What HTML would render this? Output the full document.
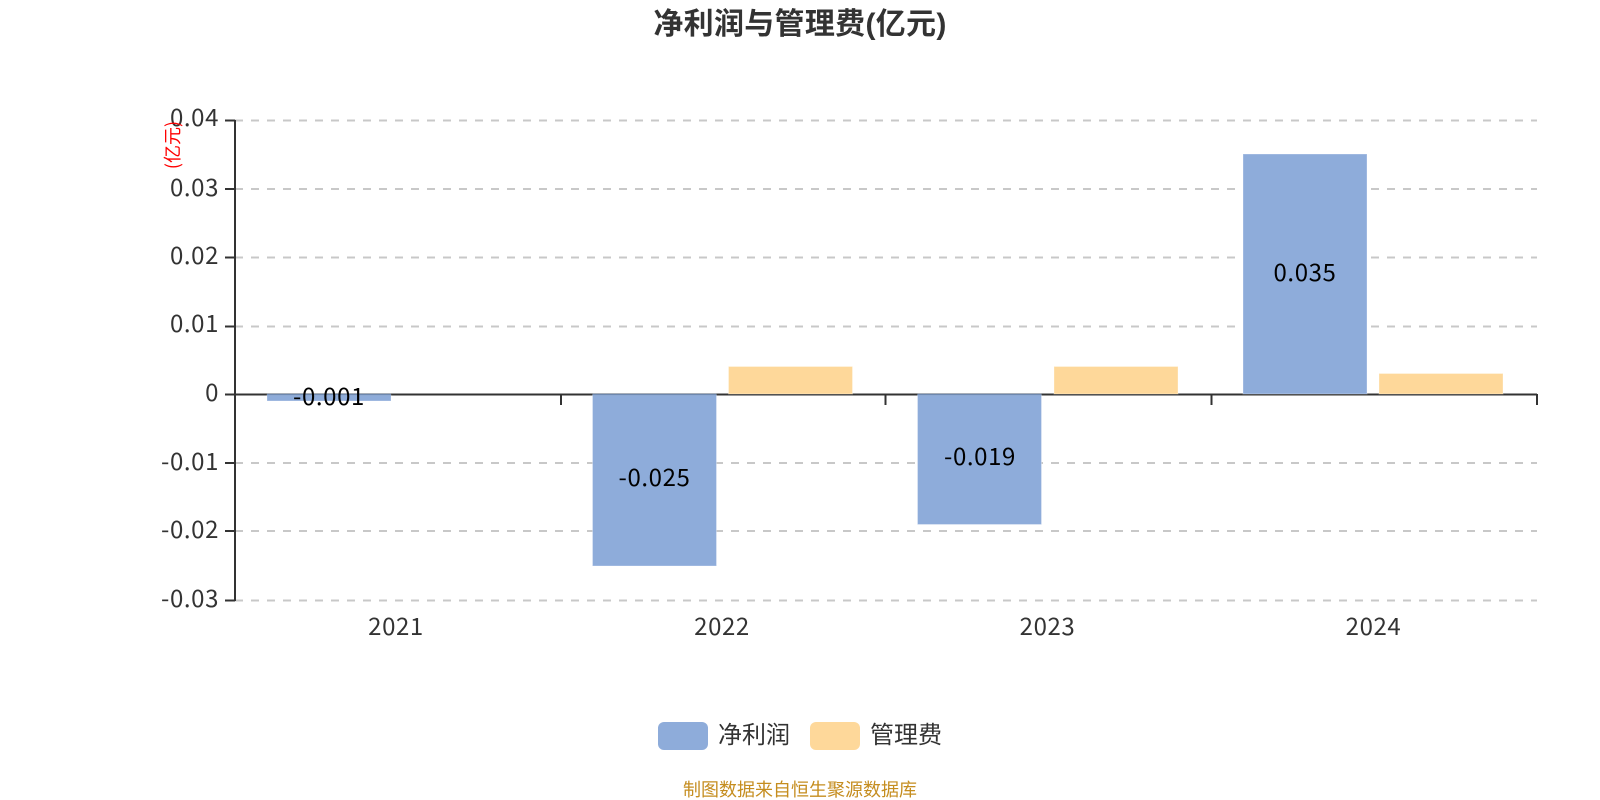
<!DOCTYPE html>
<html>
<head>
<meta charset="utf-8">
<style>
html,body{margin:0;padding:0;background:#fff;width:1600px;height:800px;overflow:hidden}
svg{display:block}
text{font-family:"Liberation Sans","Noto Sans CJK SC",sans-serif}
.n{font-family:"Noto Sans CJK SC","Liberation Sans",sans-serif;font-weight:400}
.d{letter-spacing:.6px}
</style>
</head>
<body>
<svg width="1600" height="800" viewBox="0 0 1600 800" xmlns="http://www.w3.org/2000/svg">
<rect width="1600" height="800" fill="#fff"/>
<text x="800" y="34" text-anchor="middle" font-size="30" font-weight="700" fill="#333" letter-spacing=".3">净利润与管理费(亿元)</text>

<g stroke="#c8c8c8" stroke-width="2" stroke-dasharray="8 8" fill="none">
<path d="M235 120.5H1537M235 189H1537M235 257.5H1537M235 326.5H1537M235 463H1537M235 531H1537M235 600.5H1537"/>
</g>

<g fill="none" stroke="#333" stroke-width="2">
<path d="M235 120V601"/>
<path d="M225 120.5H235M225 189H235M225 257.5H235M225 326.5H235M225 394.5H235M225 463H235M225 531H235M225 600.5H235"/>
<path d="M235 394.5H1537"/>
<path d="M561 394V405M885.5 394V405M1211.5 394V405M1537 394V405"/>
</g>

<g stroke="#fff" stroke-opacity=".3" stroke-width="1">
<rect x="267" y="395" width="124" height="6" fill="#8eacda"/>
<rect x="592.5" y="395" width="124" height="171" fill="#8eacda"/>
<rect x="917.5" y="395" width="124" height="129.5" fill="#8eacda"/>
<rect x="1243" y="154" width="124" height="240" fill="#8eacda"/>
<rect x="728.5" y="366.5" width="124" height="27.5" fill="#fed89a"/>
<rect x="1054" y="366.5" width="124" height="27.5" fill="#fed89a"/>
<rect x="1379" y="373.5" width="124" height="20.5" fill="#fed89a"/>
</g>
<path d="M267 394.5H391M592.5 394.5H716.5M917.5 394.5H1041.5" stroke="#6d88b0" stroke-width="1.5" fill="none"/>

<g class="n d" font-size="24" fill="#333" text-anchor="end">
<text class="n d" x="219" y="126">0.04</text>
<text class="n d" x="219" y="196">0.03</text>
<text class="n d" x="219" y="264">0.02</text>
<text class="n d" x="219" y="332">0.01</text>
<text class="n d" x="219" y="401">0</text>
<text class="n d" x="219" y="470">-0.01</text>
<text class="n d" x="219" y="538">-0.02</text>
<text class="n d" x="219" y="607">-0.03</text>
</g>

<text class="n" transform="translate(179 145) rotate(-90)" text-anchor="middle" font-size="18" fill="#f00">(亿元)</text>

<g class="n d" font-size="24" fill="#333" text-anchor="middle">
<text class="n d" x="396" y="635">2021</text>
<text class="n d" x="722" y="635">2022</text>
<text class="n d" x="1047.5" y="635">2023</text>
<text class="n d" x="1373.5" y="635">2024</text>
</g>

<g class="n d" font-size="24" fill="#000" text-anchor="middle">
<text class="n d" x="329" y="405">-0.001</text>
<text class="n d" x="654.5" y="486">-0.025</text>
<text class="n d" x="980" y="465">-0.019</text>
<text class="n d" x="1305" y="281">0.035</text>
</g>

<rect x="658" y="722" width="50" height="28" rx="6" fill="#8eacda"/>
<rect x="810" y="722" width="50" height="28" rx="6" fill="#fed89a"/>
<text class="n" x="718" y="743" font-size="24" fill="#333">净利润</text>
<text class="n" x="870" y="743" font-size="24" fill="#333">管理费</text>

<text x="800" y="796" text-anchor="middle" font-size="18" fill="#c58d1f">制图数据来自恒生聚源数据库</text>
</svg>
</body>
</html>
